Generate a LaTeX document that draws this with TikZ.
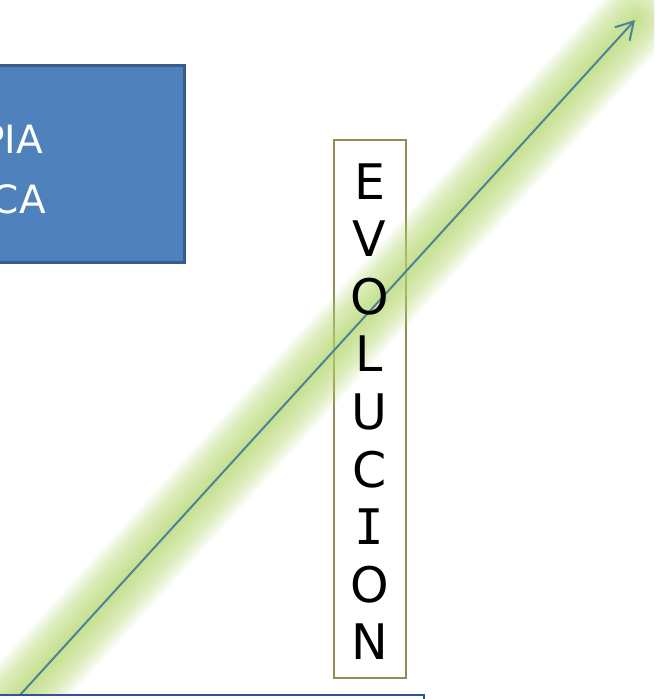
\documentclass[tikz,border=0pt]{standalone}
\usepackage{fontspec}
\setmainfont{DejaVu Sans}
\newfontfamily\serifI{DejaVu Sans Mono}
\usetikzlibrary{arrows.meta}
\definecolor{boxblue}{HTML}{4F81BD}
\definecolor{boxborder}{HTML}{385D8A}
\definecolor{olivebox}{HTML}{948A54}
\definecolor{arrowcol}{HTML}{4F8299}
\definecolor{glowcol}{HTML}{B8DC72}
\definecolor{bottomborder}{HTML}{2F5597}
\begin{document}
\begin{tikzpicture}[x=1pt,y=-1pt,
  bluebox/.style={draw=boxborder, fill=boxblue, line width=3pt, inner sep=0pt},
  bluetext/.style={text=white, font=\fontsize{39}{44}\selectfont, inner sep=0pt},
  evobox/.style={draw=olivebox, line width=1.5pt, inner sep=0pt},
  evoletter/.style={text=black, font=\fontsize{49}{57}\selectfont, inner sep=0pt},
  glowline/.style={draw=glowcol, line cap=round},
  mainarrow/.style={draw=arrowcol, line width=2pt, -{Straight Barb[length=17pt,width=20pt,line width=2pt]}},
  bottombox/.style={draw=bottomborder, fill=white, line width=2pt, inner sep=0pt}
]
\useasboundingbox (0,0) rectangle (654,699);
\clip (0,0) rectangle (654,699);
\fill[white] (0,0) rectangle (654,699);

% blue box (cut off on the left)
\node[bluebox, minimum width=196pt, minimum height=197pt] (blue) at (86,163.5) {};
\node[bluetext, anchor=base east] (pia) at (43,153) {PIA};
\node[bluetext, anchor=base east] (ca) at (46,213) {CA};

% EVOLUCION box
\node[evobox, minimum width=72pt, minimum height=538pt] (evo) at (370,409) {};

% arrow with soft glow
\coordinate (s) at (10,706);
\coordinate (e) at (635,20);
\foreach \w in {74,68,62,56,50,44,38,32,26,20,14,8}
  \draw[glowline, line width=\w pt, opacity=0.1] (s) -- (e);
\draw[mainarrow] (s) -- (e);

% letters
\foreach \l [count=\i] in {E,V,O,L,U,C,{\serifI I},O,N}
  \node[evoletter, anchor=base] (l\i) at (369.5,{199+(\i-1)*57.6}) {\l};

% bottom box (cut off)
\node[bottombox, minimum width=430pt, minimum height=40pt] (bottom) at (209,715) {};
\end{tikzpicture}
\end{document}
